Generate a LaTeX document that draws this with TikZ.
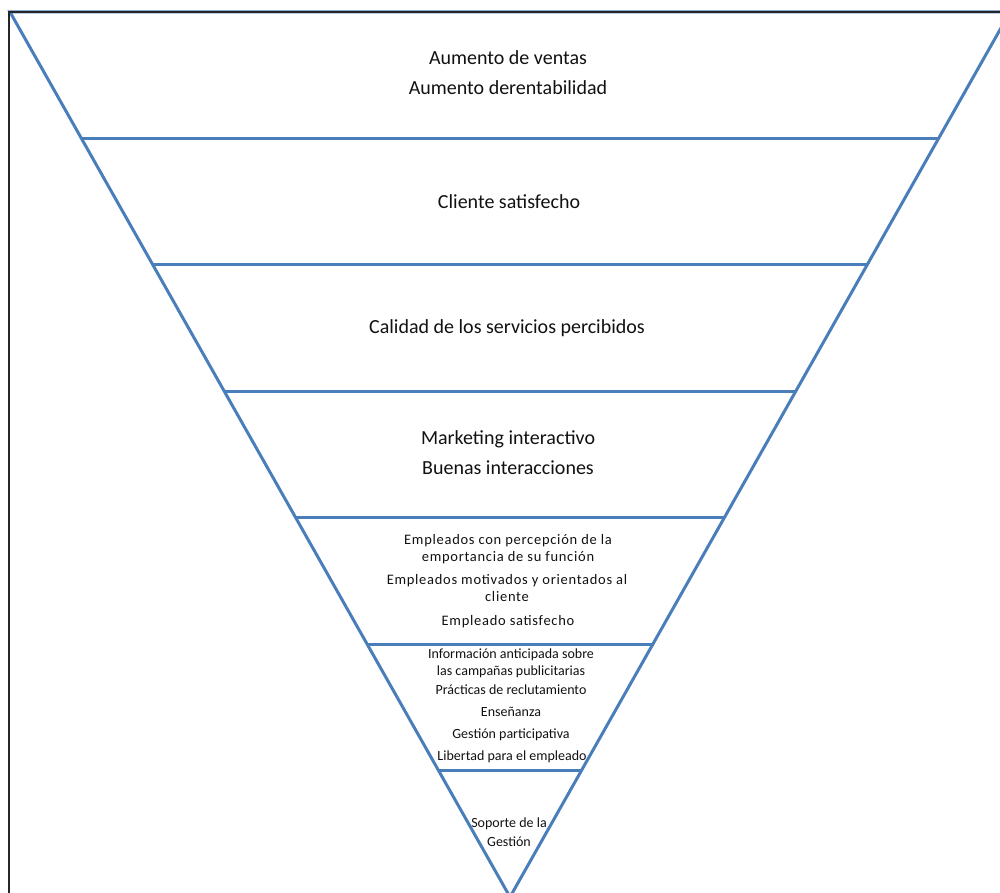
\documentclass[tikz,border=0pt]{standalone}
\usepackage{fontspec}
\setmainfont{Carlito}
\usetikzlibrary{calc,positioning}
\definecolor{bandblue}{HTML}{4A7EBB}
\definecolor{inktext}{HTML}{111111}
\tikzset{
  bandline/.style={draw=bandblue, line width=3pt},
  lblbig/.style={align=center, inner sep=0pt, text=inktext, font=\fontsize{20}{30}\selectfont},
  lblmid/.style={align=center, inner sep=0pt, text=inktext, font=\fontsize{14.5}{17}\selectfont\addfontfeature{LetterSpace=5}},
  lblsmall/.style={align=center, inner sep=0pt, text=inktext, font=\fontsize{14}{17}\selectfont}
}
\begin{document}
\begin{tikzpicture}[x=1pt,y=-1pt]

  \useasboundingbox (0,0) rectangle (1000,893);
  \clip (0,0) rectangle (1000,893);

  \coordinate (tl) at (10,12);
  \coordinate (tr) at (1010,12);
  \coordinate (apex) at (510,897);

  % inverted pyramid and its bands
  \draw[bandline, line join=miter] (tl) -- (tr) -- (apex) -- cycle;
  \foreach \k in {1,...,6}
    \draw[bandline] ($(tl)!\k/7!(apex)$) -- ($(tr)!\k/7!(apex)$);

  % frame
  \draw[line width=2pt, black!85] (9,893) -- (9,12) -- (1000,12);

  \node[lblbig] (ventas) at (508,73) {Aumento de ventas\\Aumento derentabilidad};
  \node[lblbig] (cliente) at (509,202) {Cliente satisfecho};
  \node[lblbig] (calidad) at (507,328) {Calidad de los servicios percibidos};
  \node[lblbig] (marketing) at (508,453) {Marketing interactivo\\Buenas interacciones};

  \node[lblmid] (percepcion) at (508,549) {Empleados con percepción de la\\emportancia de su función};
  \node[lblmid] (motivados) at (507,588) {Empleados motivados y orientados al\\cliente};
  \node[lblmid] (empsatis) at (508,622) {Empleado satisfecho};

  \node[lblsmall] (informacion) at (511,663) {Información anticipada sobre\\las campañas publicitarias};
  \node[lblsmall] (practicas) at (511,690) {Prácticas de reclutamiento};
  \node[lblsmall] (ensenanza) at (511,712) {Enseñanza};
  \node[lblsmall] (gestpart) at (511,735) {Gestión participativa};
  \node[lblsmall] (libertad) at (512,757) {Libertad para el empleado};

  \node[lblsmall, font=\fontsize{14}{19}\selectfont] (soporte) at (509,832) {Soporte de la\\Gestión};

\end{tikzpicture}
\end{document}
